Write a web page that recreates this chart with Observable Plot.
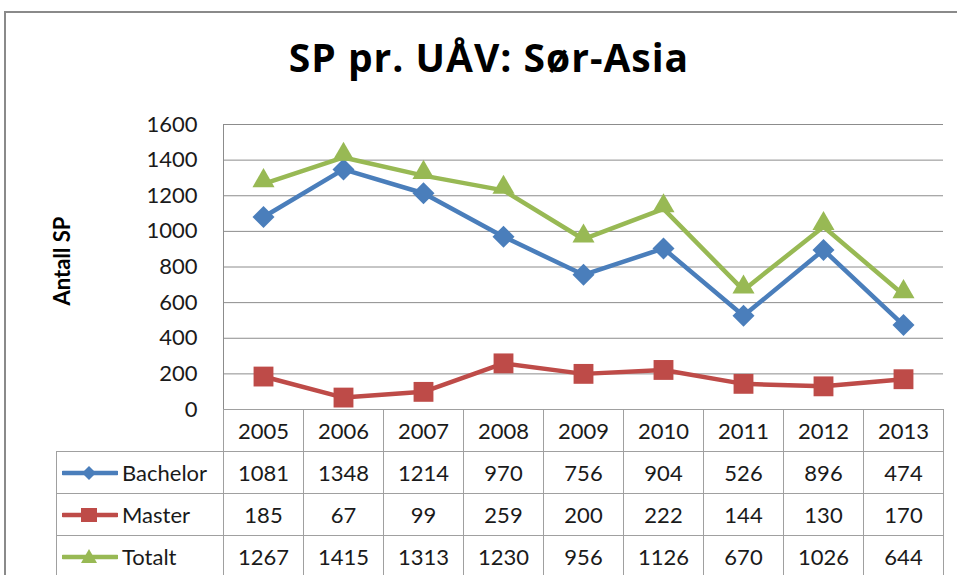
<!DOCTYPE html>
<html>
<head>
<meta charset="utf-8">
<script src="https://cdn.jsdelivr.net/npm/d3@7"></script>
<script src="https://cdn.jsdelivr.net/npm/@observablehq/plot@0.6"></script>
<style>
  body { margin:0; background:#fff; }
  #wrap { position:relative; width:957px; height:575px; overflow:hidden; font-family:Lato, "Open Sans", sans-serif; color:#1a1a1a; }
  #frame { position:absolute; left:4px; top:11px; width:1100px; height:1100px; border:2px solid #8a8a8a; }
  #title { position:absolute; left:0; top:33px; width:978px; text-align:center; font-family:"Open Sans", Lato, sans-serif; font-weight:bold; font-size:39px; letter-spacing:1px; line-height:48px; color:#000; }
  #ylabel { position:absolute; left:61px; top:261px; transform:translate(-50%,-50%) rotate(-90deg); font-weight:bold; font-size:22px; white-space:nowrap; color:#000; }
  #chart { position:absolute; left:0; top:0; }
  #tbl { position:absolute; left:56px; top:409px; border-collapse:collapse; table-layout:fixed; font-size:22px; background:transparent; }
  #tbl td { border:1px solid #a0a0a0; text-align:center; padding:0; height:41px; line-height:41px; background:#fff; }
  #tbl td.lab { text-align:left; white-space:nowrap; }
  #tbl td.blank { border-top:none; border-left:none; background:transparent; }
  #tbl svg { vertical-align:middle; margin-right:4px; margin-left:5px; position:relative; top:-2px; }
</style>
</head>
<body>
<div id="wrap">
  <div id="frame"></div>
  <div id="chart"></div>
  <div id="title">SP pr. UÅV: Sør-Asia</div>
  <div id="ylabel">Antall SP</div>
  <table id="tbl"></table>
</div>
<script>
const years = ["2005","2006","2007","2008","2009","2010","2011","2012","2013"];
const bachelor = [1081,1348,1214,970,756,904,526,896,474];
const master = [185,67,99,259,200,222,144,130,170];
const totalt = [1267,1415,1313,1230,956,1126,670,1026,644];
const seriesNames = ["Bachelor","Master","Totalt"];
const seriesValues = [bachelor, master, totalt];
const colors = ["#4A7EBB","#BE4B48","#98B954"];
const symbols = ["diamond2","square","triangle"];
const yTicks = [0,200,400,600,800,1000,1200,1400,1600];

const data = seriesNames.flatMap((s,i) => years.map((y,j) => ({series:s, year:y, value:seriesValues[i][j]})));

const chart = Plot.plot({
  width:957, height:440,
  marginLeft:223, marginRight:14, marginTop:124, marginBottom:31,
  style:{fontFamily:"Lato, 'Open Sans', sans-serif", background:"transparent", color:"#1a1a1a"},
  x:{type:"point", domain:years, padding:0.5, axis:null},
  y:{domain:[0,1600]},
  color:{domain:seriesNames, range:colors},
  symbol:{domain:seriesNames, range:symbols},
  marks:[
    Plot.gridY(yTicks, {stroke:"#8c8c8c", strokeOpacity:1, strokeWidth:1}),
    Plot.axisY(yTicks, {tickSize:0, tickPadding:26, fontSize:22, label:null, fill:"#1a1a1a", tickFormat:d => String(d)}),
    Plot.frame({anchor:"left", stroke:"#8c8c8c"}),
    Plot.line(data, {x:"year", y:"value", z:"series", stroke:"series", strokeWidth:4.5}),
    Plot.dot(data.filter(d => d.series==="Bachelor"), {x:"year", y:"value", fill:"series", symbol:"series", r:9.9}),
    Plot.dot(data.filter(d => d.series==="Master"), {x:"year", y:"value", fill:"series", symbol:"series", r:11.2}),
    Plot.dot(data.filter(d => d.series==="Totalt"), {x:"year", y:"value", fill:"series", symbol:"series", r:8.2, dy:-3})
  ]
});
document.getElementById("chart").appendChild(chart);

// data table
const tbl = document.getElementById("tbl");
const cg = document.createElement("colgroup");
cg.innerHTML = `<col style="width:167px">` + years.map(() => `<col style="width:80px">`).join("");
tbl.appendChild(cg);
let hdr = `<tr><td class="blank"></td>` + years.map(y => `<td>${y}</td>`).join("") + `</tr>`;
const swatch = (i) => {
  const c = colors[i];
  let m;
  if (i === 0) m = `<path d="M27,2 L34,9 L27,16 L20,9 Z" fill="${c}"/>`;
  else if (i === 1) m = `<rect x="19" y="2" width="16" height="14" fill="${c}"/>`;
  else m = `<path d="M27,1 L35,15 L19,15 Z" fill="${c}"/>`;
  return `<svg width="56" height="18"><line x1="1" y1="9" x2="55" y2="9" stroke="${c}" stroke-width="4.5" stroke-linecap="round"/>${m}</svg>`;
};
let rows = seriesNames.map((s,i) => `<tr><td class="lab">${swatch(i)}${s}</td>` + seriesValues[i].map(v => `<td>${v}</td>`).join("") + `</tr>`).join("");
tbl.innerHTML += hdr + rows;
</script>
</body>
</html>
